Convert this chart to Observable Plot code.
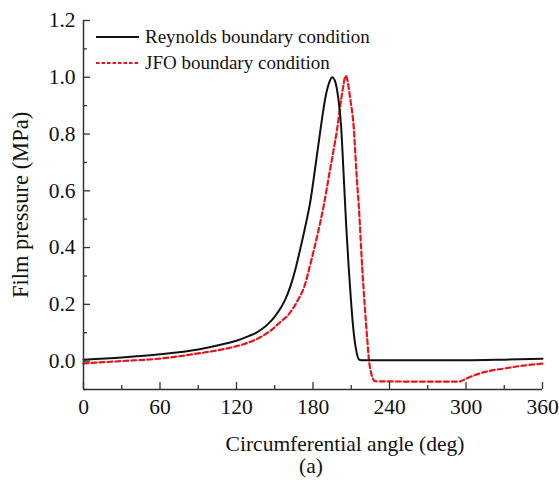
<!DOCTYPE html>
<html>
<head>
<meta charset="utf-8">
<script src="https://cdn.jsdelivr.net/npm/d3@7"></script>
<script src="https://cdn.jsdelivr.net/npm/@observablehq/plot@0.6"></script>
<style>
  html, body { margin: 0; padding: 0; background: #fff; }
  #wrap { position: relative; width: 559px; height: 481px; font-family: "Liberation Serif", "Times New Roman", serif; }
  #wrap svg, #wrap svg text, #wrap svg g { font-family: "Liberation Serif", "Times New Roman", serif !important; font-weight: normal !important; }
  #legend { position: absolute; left: 96px; top: 24px; font-size: 19px; color: #111; }
  #legend .row { display: flex; align-items: center; height: 25.7px; }
  #legend svg { margin-right: 6px; }
</style>
</head>
<body>
<div id="wrap"><div id="legend"></div></div>
<script>
// ---- data ----
const seriesNames = ["Reynolds boundary condition", "JFO boundary condition"];
const reynoldsAngle = [0, 30, 60, 90, 110, 120, 130, 135, 140, 145, 150, 155, 158, 162, 166, 170, 174, 178, 182, 186, 190, 193, 195, 197, 200, 202, 204, 206, 208, 210, 212, 214, 216, 218, 260, 300, 330, 360];
const reynoldsP     = [0.005, 0.013, 0.024, 0.041, 0.060, 0.072, 0.089, 0.099, 0.113, 0.132, 0.157, 0.19, 0.215, 0.26, 0.32, 0.395, 0.475, 0.565, 0.69, 0.82, 0.935, 0.985, 1.0, 0.99, 0.92, 0.83, 0.66, 0.48, 0.33, 0.20, 0.097, 0.035, 0.006, 0.003, 0.003, 0.003, 0.005, 0.008];
const jfoAngle = [0, 30, 60, 90, 115, 123, 139, 147, 154.5, 160, 165, 169, 173, 178, 183, 188.5, 193, 196, 199, 202, 204, 205.5, 207, 209, 212, 214, 216, 218.6, 220.5, 222.5, 224, 225.5, 227, 229, 260, 295, 300, 307, 316, 330, 343, 360];
const jfoP     = [-0.008, 0.0, 0.009, 0.027, 0.047, 0.056, 0.085, 0.108, 0.138, 0.16, 0.19, 0.222, 0.26, 0.343, 0.435, 0.55, 0.665, 0.74, 0.82, 0.92, 0.975, 1.005, 0.99, 0.93, 0.82, 0.67, 0.54, 0.33, 0.20, 0.08, 0.0, -0.04, -0.062, -0.071, -0.072, -0.072, -0.062, -0.049, -0.037, -0.026, -0.017, -0.009];
const xDomain = [0, 360];
const yDomain = [-0.1, 1.2];
const xMajor = [0, 60, 120, 180, 240, 300, 360];
const xMinor = [30, 90, 150, 210, 270, 330];
const yMajor = [0.0, 0.2, 0.4, 0.6, 0.8, 1.0, 1.2];
const yMinor = [-0.1, 0.1, 0.3, 0.5, 0.7, 0.9, 1.1];
const xLabel = "Circumferential angle (deg)";
const yLabel = "Film pressure (MPa)";
const panelLabel = "(a)";
const colors = ["#111111", "#e8141c"];

const reynolds = reynoldsAngle.map((a, i) => ({angle: a, p: reynoldsP[i]}));
const jfo = jfoAngle.map((a, i) => ({angle: a, p: jfoP[i]}));

const W = 559, H = 481, mL = 83, mR = 17, mT = 20, mB = 92;
const frameW = W - mL - mR, frameH = H - mT - mB;
const axisColor = "#333";
const serif = "'Liberation Serif', 'Times New Roman', serif";

const chart = Plot.plot({
  width: W, height: H,
  marginLeft: mL, marginRight: mR, marginTop: mT, marginBottom: mB,
  style: {fontFamily: serif, fontSize: "21.5px", color: "#111", background: "#fff"},
  x: {domain: xDomain},
  y: {domain: yDomain},
  marks: [
    Plot.line(jfo, {x: "angle", y: "p", stroke: colors[1], strokeWidth: 2.2, strokeDasharray: "5,3", curve: "monotone-x"}),
    Plot.line(reynolds, {x: "angle", y: "p", stroke: colors[0], strokeWidth: 2, curve: "monotone-x"}),
    // inward ticks
    Plot.tickX(xMajor, {x: d => d, stroke: axisColor, strokeWidth: 1.3, insetTop: frameH - 7}),
    Plot.tickX(xMinor, {x: d => d, stroke: axisColor, strokeWidth: 1.3, insetTop: frameH - 4}),
    Plot.tickY(yMajor, {y: d => d, stroke: axisColor, strokeWidth: 1.3, insetRight: frameW - 7}),
    Plot.tickY(yMinor, {y: d => d, stroke: axisColor, strokeWidth: 1.3, insetRight: frameW - 4}),
    // spines
    Plot.ruleX([xDomain[0]], {stroke: axisColor, strokeWidth: 1.5}),
    Plot.ruleY([yDomain[0]], {stroke: axisColor, strokeWidth: 1.5}),
    // tick labels
    Plot.axisX({ticks: xMajor, tickSize: 0, tickPadding: 9, label: null, tickFormat: d => String(d), fontSize: 21.5, fontFamily: serif, fill: "#111"}),
    Plot.axisY({ticks: yMajor, tickSize: 0, tickPadding: 8, label: null, tickFormat: d3.format(".1f"), fontSize: 21.5, fontFamily: serif, fill: "#111"}),
    // axis titles
    Plot.text([xLabel], {text: d => d, frameAnchor: "bottom", textAnchor: "middle", lineAnchor: "middle", dx: 32, dy: 55, fontSize: 21.5, fontFamily: serif, fill: "#111"}),
    Plot.text([panelLabel], {text: d => d, frameAnchor: "bottom", textAnchor: "middle", lineAnchor: "middle", dx: -2, dy: 77, fontSize: 21.5, fontFamily: serif, fill: "#111"}),
    Plot.text([yLabel], {text: d => d, frameAnchor: "left", textAnchor: "middle", lineAnchor: "middle", rotate: -90, dx: -63, dy: 0, fontSize: 22.5, fontFamily: serif, fill: "#111"})
  ]
});
document.getElementById("wrap").prepend(chart);

// legend
const legend = document.getElementById("legend");
seriesNames.forEach((name, i) => {
  const row = document.createElement("div");
  row.className = "row";
  const dash = i === 1 ? 'stroke-dasharray="3.5,2"' : '';
  row.innerHTML = `<svg width="43" height="6"><line x1="0" x2="43" y1="3" y2="3" stroke="${colors[i]}" stroke-width="2" ${dash}/></svg><span>${name}</span>`;
  legend.appendChild(row);
});
</script>
</body>
</html>
